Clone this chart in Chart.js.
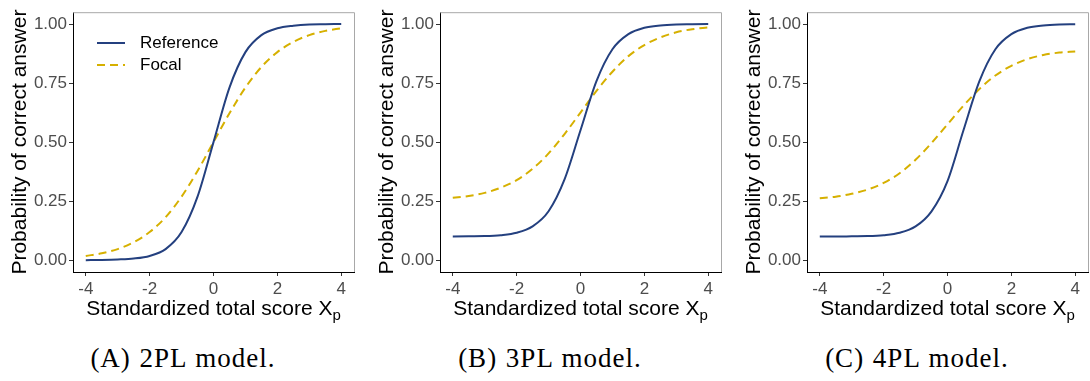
<!DOCTYPE html>
<html lang="en">
<head>
<meta charset="UTF-8">
<title>Item characteristic curves</title>
<script src="https://cdn.jsdelivr.net/npm/chart.js"></script>
<style>
  body { margin: 0; width: 1090px; height: 381px; background: #fff; position: relative; overflow: hidden;
         font-family: "Liberation Sans", Arial, sans-serif; }
  .panel { position: absolute; top: 0; width: 360px; height: 320px; }
  .xtitle { position: absolute; top: 297px; width: 281px; text-align: center; font-size: 21px;
            line-height: 21px; color: #000; white-space: nowrap; }
  .xtitle sub { font-size: 15px; vertical-align: -5px; line-height: 0; }
  .caption { position: absolute; top: 343px; width: 300px; text-align: center; color: #000;
             font-family: "Liberation Serif", serif; font-size: 27px; letter-spacing: 1px; word-spacing: 1px; }
  .key { position: absolute; left: 97px; font-size: 17px; line-height: 20px; color: #000; white-space: nowrap; }
  .key svg { position: absolute; left: 0; top: 8px; }
  .key span { position: absolute; left: 43px; top: 0; }
</style>
</head>
<body>

<div class="panel" style="left:0px"><canvas id="c2pl" width="360" height="320"></canvas>
  <div class="key" style="top:33px"><svg width="28" height="4"><line x1="0" y1="2" x2="28" y2="2" stroke="#24407F" stroke-width="2"/></svg><span>Reference</span></div>
  <div class="key" style="top:55px"><svg width="28" height="4"><line x1="0" y1="2" x2="28" y2="2" stroke="#D6B000" stroke-width="2" stroke-dasharray="8 5"/></svg><span>Focal</span></div>
</div>
<div class="panel" style="left:367px"><canvas id="c3pl" width="360" height="320"></canvas></div>
<div class="panel" style="left:734px"><canvas id="c4pl" width="360" height="320"></canvas></div>

<div class="xtitle" style="left:73px">Standardized total score X<sub>p</sub></div>
<div class="xtitle" style="left:440px">Standardized total score X<sub>p</sub></div>
<div class="xtitle" style="left:807px">Standardized total score X<sub>p</sub></div>

<div class="caption" style="left:33px">(A) 2PL model.</div>
<div class="caption" style="left:400px">(B) 3PL model.</div>
<div class="caption" style="left:767px">(C) 4PL model.</div>

<script>
  // standardized total score grid
  const scores = [-4, -3.5, -3, -2.5, -2, -1.5, -1, -0.5, 0, 0.5, 1, 1.5, 2, 2.5, 3, 3.5, 4];

  // probability of a correct answer, reference and focal groups
  const ref2PL   = [0.000, 0.001, 0.003, 0.007, 0.018, 0.047, 0.119, 0.269, 0.500, 0.731, 0.881, 0.953, 0.982, 0.993, 0.998, 0.999, 1.000];
  const focal2PL = [0.018, 0.029, 0.047, 0.076, 0.119, 0.182, 0.269, 0.378, 0.500, 0.622, 0.731, 0.818, 0.881, 0.924, 0.953, 0.971, 0.982];

  const ref3PL   = [0.100, 0.101, 0.102, 0.106, 0.116, 0.143, 0.207, 0.342, 0.550, 0.758, 0.893, 0.957, 0.984, 0.994, 0.998, 0.999, 1.000];
  const focal3PL = [0.264, 0.272, 0.285, 0.307, 0.339, 0.387, 0.452, 0.534, 0.625, 0.717, 0.798, 0.864, 0.911, 0.943, 0.965, 0.978, 0.986];

  const ref4PL   = [0.100, 0.100, 0.101, 0.102, 0.106, 0.116, 0.143, 0.207, 0.335, 0.550, 0.758, 0.893, 0.957, 0.984, 0.994, 0.998, 0.999];
  const focal4PL = [0.262, 0.269, 0.281, 0.299, 0.327, 0.368, 0.425, 0.496, 0.575, 0.654, 0.725, 0.782, 0.823, 0.851, 0.869, 0.879, 0.884];

  const xTicks = [-4, -2, 0, 2, 4];
  const yTicks = [0, 0.25, 0.5, 0.75, 1];

  const navy = '#24407F';
  const gold = '#D6B000';
  const sans = '"Liberation Sans", Arial, sans-serif';

  // light grey frame on top and right, axes stay dark
  const frame = {
    id: 'frame',
    afterDraw(chart) {
      const { ctx, chartArea: a } = chart;
      ctx.save();
      ctx.strokeStyle = '#A8A8A8';
      ctx.lineWidth = 1;
      ctx.beginPath();
      ctx.moveTo(a.left, a.top + 0.5);
      ctx.lineTo(a.right + 0.5, a.top + 0.5);
      ctx.lineTo(a.right + 0.5, a.bottom);
      ctx.stroke();
      ctx.restore();
    }
  };

  const toPoints = vals => scores.map((x, i) => ({ x: x, y: vals[i] }));

  const makeChart = (id, refVals, focalVals) => {
    new Chart(document.getElementById(id), {
      type: 'line',
      data: {
        datasets: [{
          label: 'Reference',
          data: toPoints(refVals),
          borderColor: navy,
          borderWidth: 2,
          pointRadius: 0,
          cubicInterpolationMode: 'monotone',
          fill: false
        }, {
          label: 'Focal',
          data: toPoints(focalVals),
          borderColor: gold,
          borderWidth: 2,
          borderDash: [8, 5],
          pointRadius: 0,
          cubicInterpolationMode: 'monotone',
          fill: false
        }]
      },
      options: {
        responsive: false,
        animation: false,
        layout: { padding: { top: 12, right: 6, left: 0, bottom: 0 } },
        plugins: { legend: { display: false }, tooltip: { enabled: false } },
        scales: {
          x: {
            type: 'linear',
            min: -4.4,
            max: 4.4,
            afterBuildTicks: s => { s.ticks = xTicks.map(v => ({ value: v })); },
            afterFit: s => { s.height = 48; },
            grid: { drawOnChartArea: false, drawTicks: true, tickLength: 4, color: '#333' },
            border: { display: true, color: '#000', width: 1 },
            ticks: { color: '#4D4D4D', font: { size: 17, family: sans }, padding: 3,
                     maxRotation: 0, autoSkip: false, callback: v => String(v) }
          },
          y: {
            min: -0.05,
            max: 1.05,
            afterBuildTicks: s => { s.ticks = yTicks.map(v => ({ value: v })); },
            afterFit: s => { s.width = 73; },
            grid: { drawOnChartArea: false, drawTicks: true, tickLength: 4, color: '#333' },
            border: { display: true, color: '#000', width: 1 },
            ticks: { color: '#4D4D4D', font: { size: 17, family: sans }, padding: 2,
                     autoSkip: false, callback: v => v.toFixed(2) },
            title: { display: true, text: 'Probability of correct answer', color: '#000',
                     font: { size: 21, family: sans }, padding: { top: 8, bottom: 0 } }
          }
        }
      },
      plugins: [frame]
    });
  };

  makeChart('c2pl', ref2PL, focal2PL);
  makeChart('c3pl', ref3PL, focal3PL);
  makeChart('c4pl', ref4PL, focal4PL);
</script>
</body>
</html>
